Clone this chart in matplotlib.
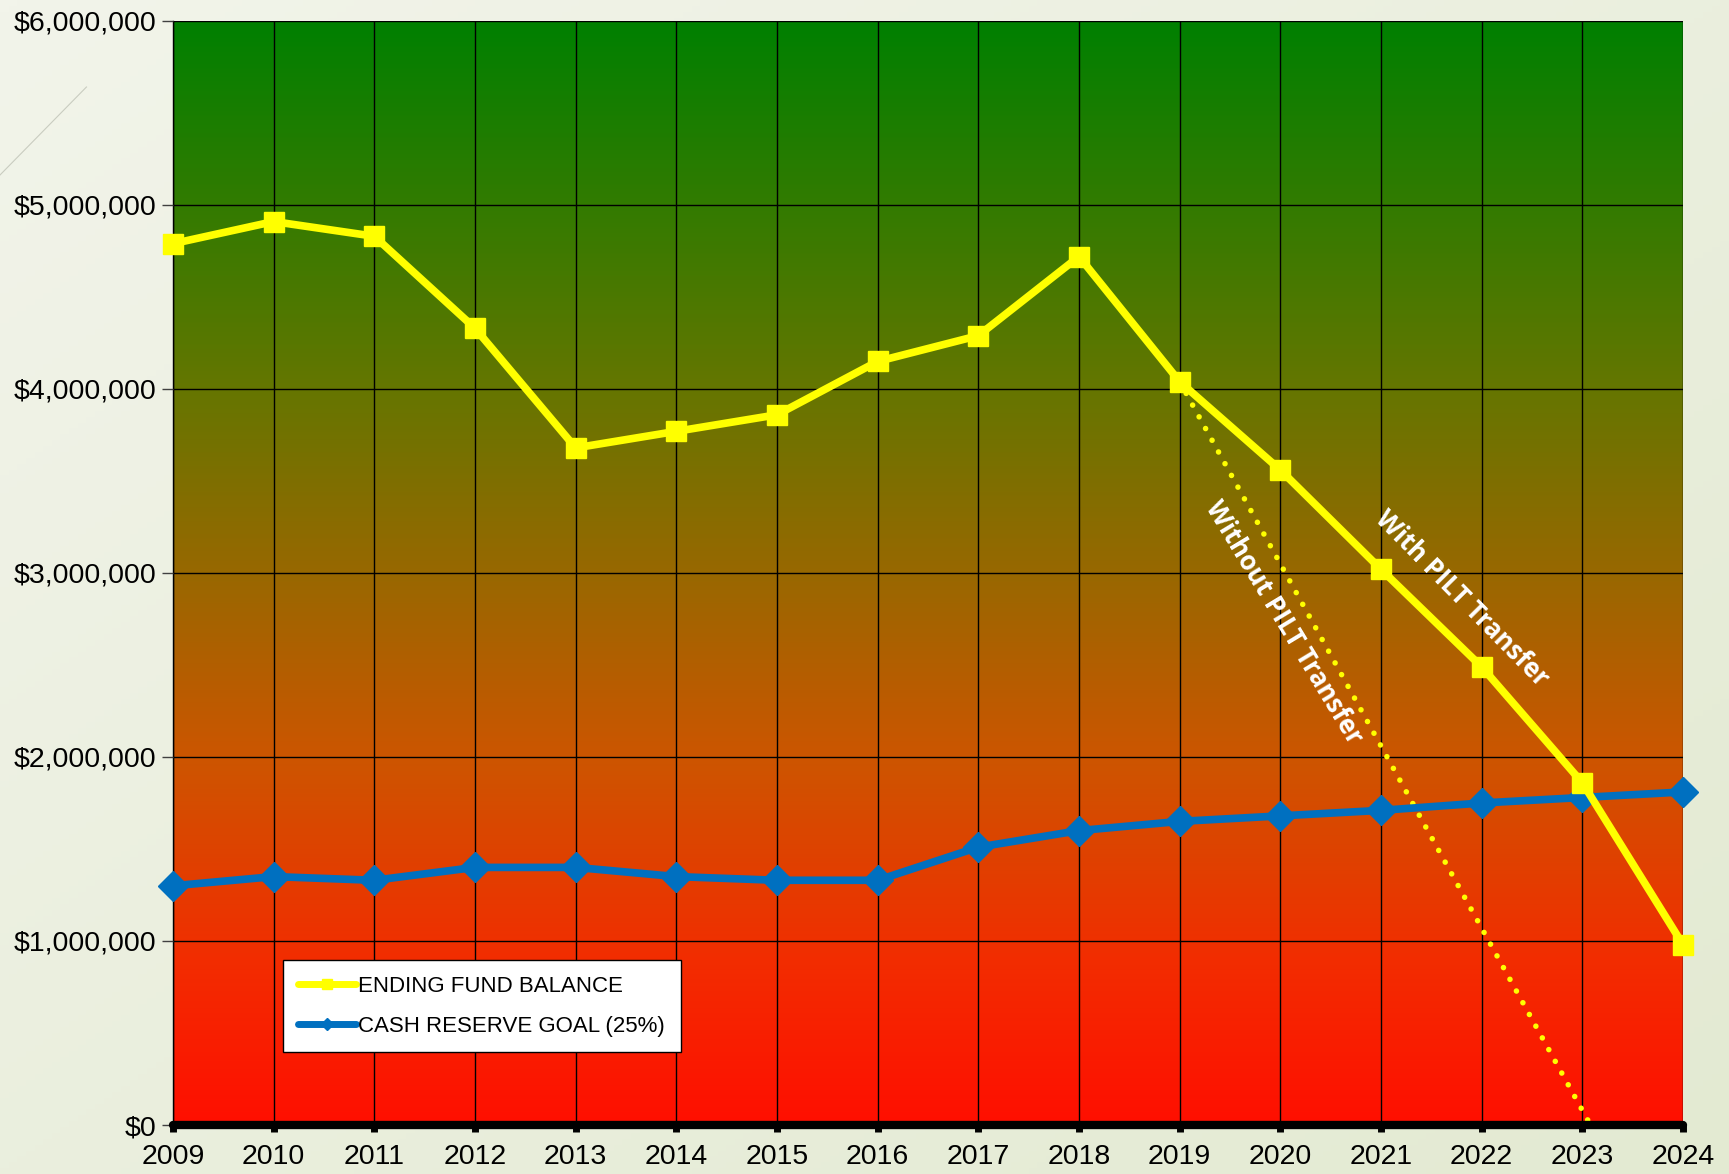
import numpy as np
import matplotlib
matplotlib.use("Agg")
import matplotlib.pyplot as plt
from matplotlib.colors import LinearSegmentedColormap
from matplotlib.lines import Line2D
from matplotlib.ticker import FuncFormatter

plt.rcParams['font.family'] = ['Liberation Sans', 'DejaVu Sans']

# values
years = list(range(2009, 2025))
fund_balance = [4.79e6, 4.91e6, 4.83e6, 4.33e6, 3.68e6, 3.77e6, 3.86e6, 4.15e6,
                4.29e6, 4.72e6, 4.04e6, 3.56e6, 3.02e6, 2.49e6, 1.86e6, 0.98e6]
reserve_goal = [1.30e6, 1.35e6, 1.33e6, 1.40e6, 1.40e6, 1.35e6, 1.33e6, 1.33e6,
                1.51e6, 1.60e6, 1.65e6, 1.68e6, 1.71e6, 1.75e6, 1.78e6, 1.81e6]
no_pilt_years = [2019, 2020, 2021, 2022, 2023, 2024]
no_pilt_balance = [4.04e6, 3.05e6, 2.06e6, 1.07e6, 0.08e6, -0.91e6]

fig = plt.figure(figsize=(17.29, 11.74), dpi=100)

# light page background
bg = fig.add_axes([0, 0, 1, 1], zorder=-10)
gx, gy = np.meshgrid(np.linspace(0, 1, 200), np.linspace(0, 1, 200))
bg_cmap = LinearSegmentedColormap.from_list('bg', ['#f2f4ea', '#e3ead2'])
bg.imshow(gx * 0.5 + gy * 0.5, cmap=bg_cmap, extent=[0, 1, 0, 1], aspect='auto', origin='upper')
bg.plot([0, 0.05], [1 - 175 / 1174, 1 - 87 / 1174], color='#c9ccc0', lw=0.8)
bg.set_xlim(0, 1)
bg.set_ylim(0, 1)
bg.axis('off')

ax = fig.add_axes([173 / 1729, 1 - 1125 / 1174, 1510 / 1729, 1104 / 1174])

# green to red gradient plot area
grad_cmap = LinearSegmentedColormap.from_list('gr', [
    (0.0, (0 / 255, 128 / 255, 0)),
    (0.33, (100 / 255, 118 / 255, 0)),
    (0.5, (152 / 255, 104 / 255, 0)),
    (0.67, (205 / 255, 85 / 255, 0)),
    (0.85, (242 / 255, 45 / 255, 0)),
    (1.0, (255 / 255, 15 / 255, 0)),
])
ax.imshow(np.linspace(0, 1, 512).reshape(-1, 1), cmap=grad_cmap, aspect='auto',
          extent=[0, 1, 0, 1], transform=ax.transAxes, zorder=0)

ax.plot(no_pilt_years, no_pilt_balance, color='#ffff00', lw=4,
        linestyle=(0, (0.01, 2.4)), dash_capstyle='round', zorder=3)
ax.plot(years, reserve_goal, color='#0070c0', lw=5.5, marker='D', markersize=15,
        zorder=4, clip_on=False)
ax.plot(years, fund_balance, color='#ffff00', lw=5.5, marker='s', markersize=14.5,
        zorder=5, clip_on=False)

ax.set_xlim(2009, 2024)
ax.set_ylim(0, 6e6)
ax.set_xticks(years)
ax.set_yticks(np.arange(0, 6.1e6, 1e6))
ax.yaxis.set_major_formatter(FuncFormatter(lambda v, p: f"${v:,.0f}"))
ax.grid(True, color='black', lw=1, zorder=1)
ax.set_axisbelow(False)
for gl in ax.get_xgridlines() + ax.get_ygridlines():
    gl.set_zorder(1)

ax.spines['top'].set_visible(False)
ax.spines['right'].set_visible(False)
ax.spines['left'].set_linewidth(1)
ax.spines['bottom'].set_linewidth(6)
ax.spines['bottom'].set_capstyle('round')
ax.spines['bottom'].set_zorder(6)
ax.tick_params(axis='x', direction='out', length=5, width=5, labelsize=20.5, pad=9)
ax.tick_params(axis='y', direction='out', length=8, width=1, color='#404040', labelsize=20.5, pad=4)

ax.text(2020.03, 2.73e6, 'Without PILT Transfer', rotation=-58.8, color='white',
        fontsize=18.5, fontweight='bold', family=['Open Sans', 'DejaVu Sans'],
        ha='center', va='center', rotation_mode='anchor', zorder=7)
ax.text(2021.8, 2.86e6, 'With PILT Transfer', rotation=-45.5, color='white',
        fontsize=18.5, fontweight='bold', family=['Open Sans', 'DejaVu Sans'],
        ha='center', va='center', rotation_mode='anchor', zorder=7)

handles = [
    Line2D([], [], color='#ffff00', lw=5, marker='s', markersize=7, solid_capstyle='round'),
    Line2D([], [], color='#0070c0', lw=5, marker='D', markersize=6, solid_capstyle='round'),
]
leg = ax.legend(handles, ['ENDING FUND BALANCE', 'CASH RESERVE GOAL (25%)'],
                loc='lower left', bbox_to_anchor=(0.0728, 0.066), borderaxespad=0,
                fontsize=16, frameon=True, fancybox=False, framealpha=1,
                edgecolor='black', handlelength=2.6, handletextpad=0.1,
                labelspacing=0.85, borderpad=0.7)
leg.get_frame().set_linewidth(1)
leg.set_zorder(8)

fig.savefig('out.png', dpi=100)
